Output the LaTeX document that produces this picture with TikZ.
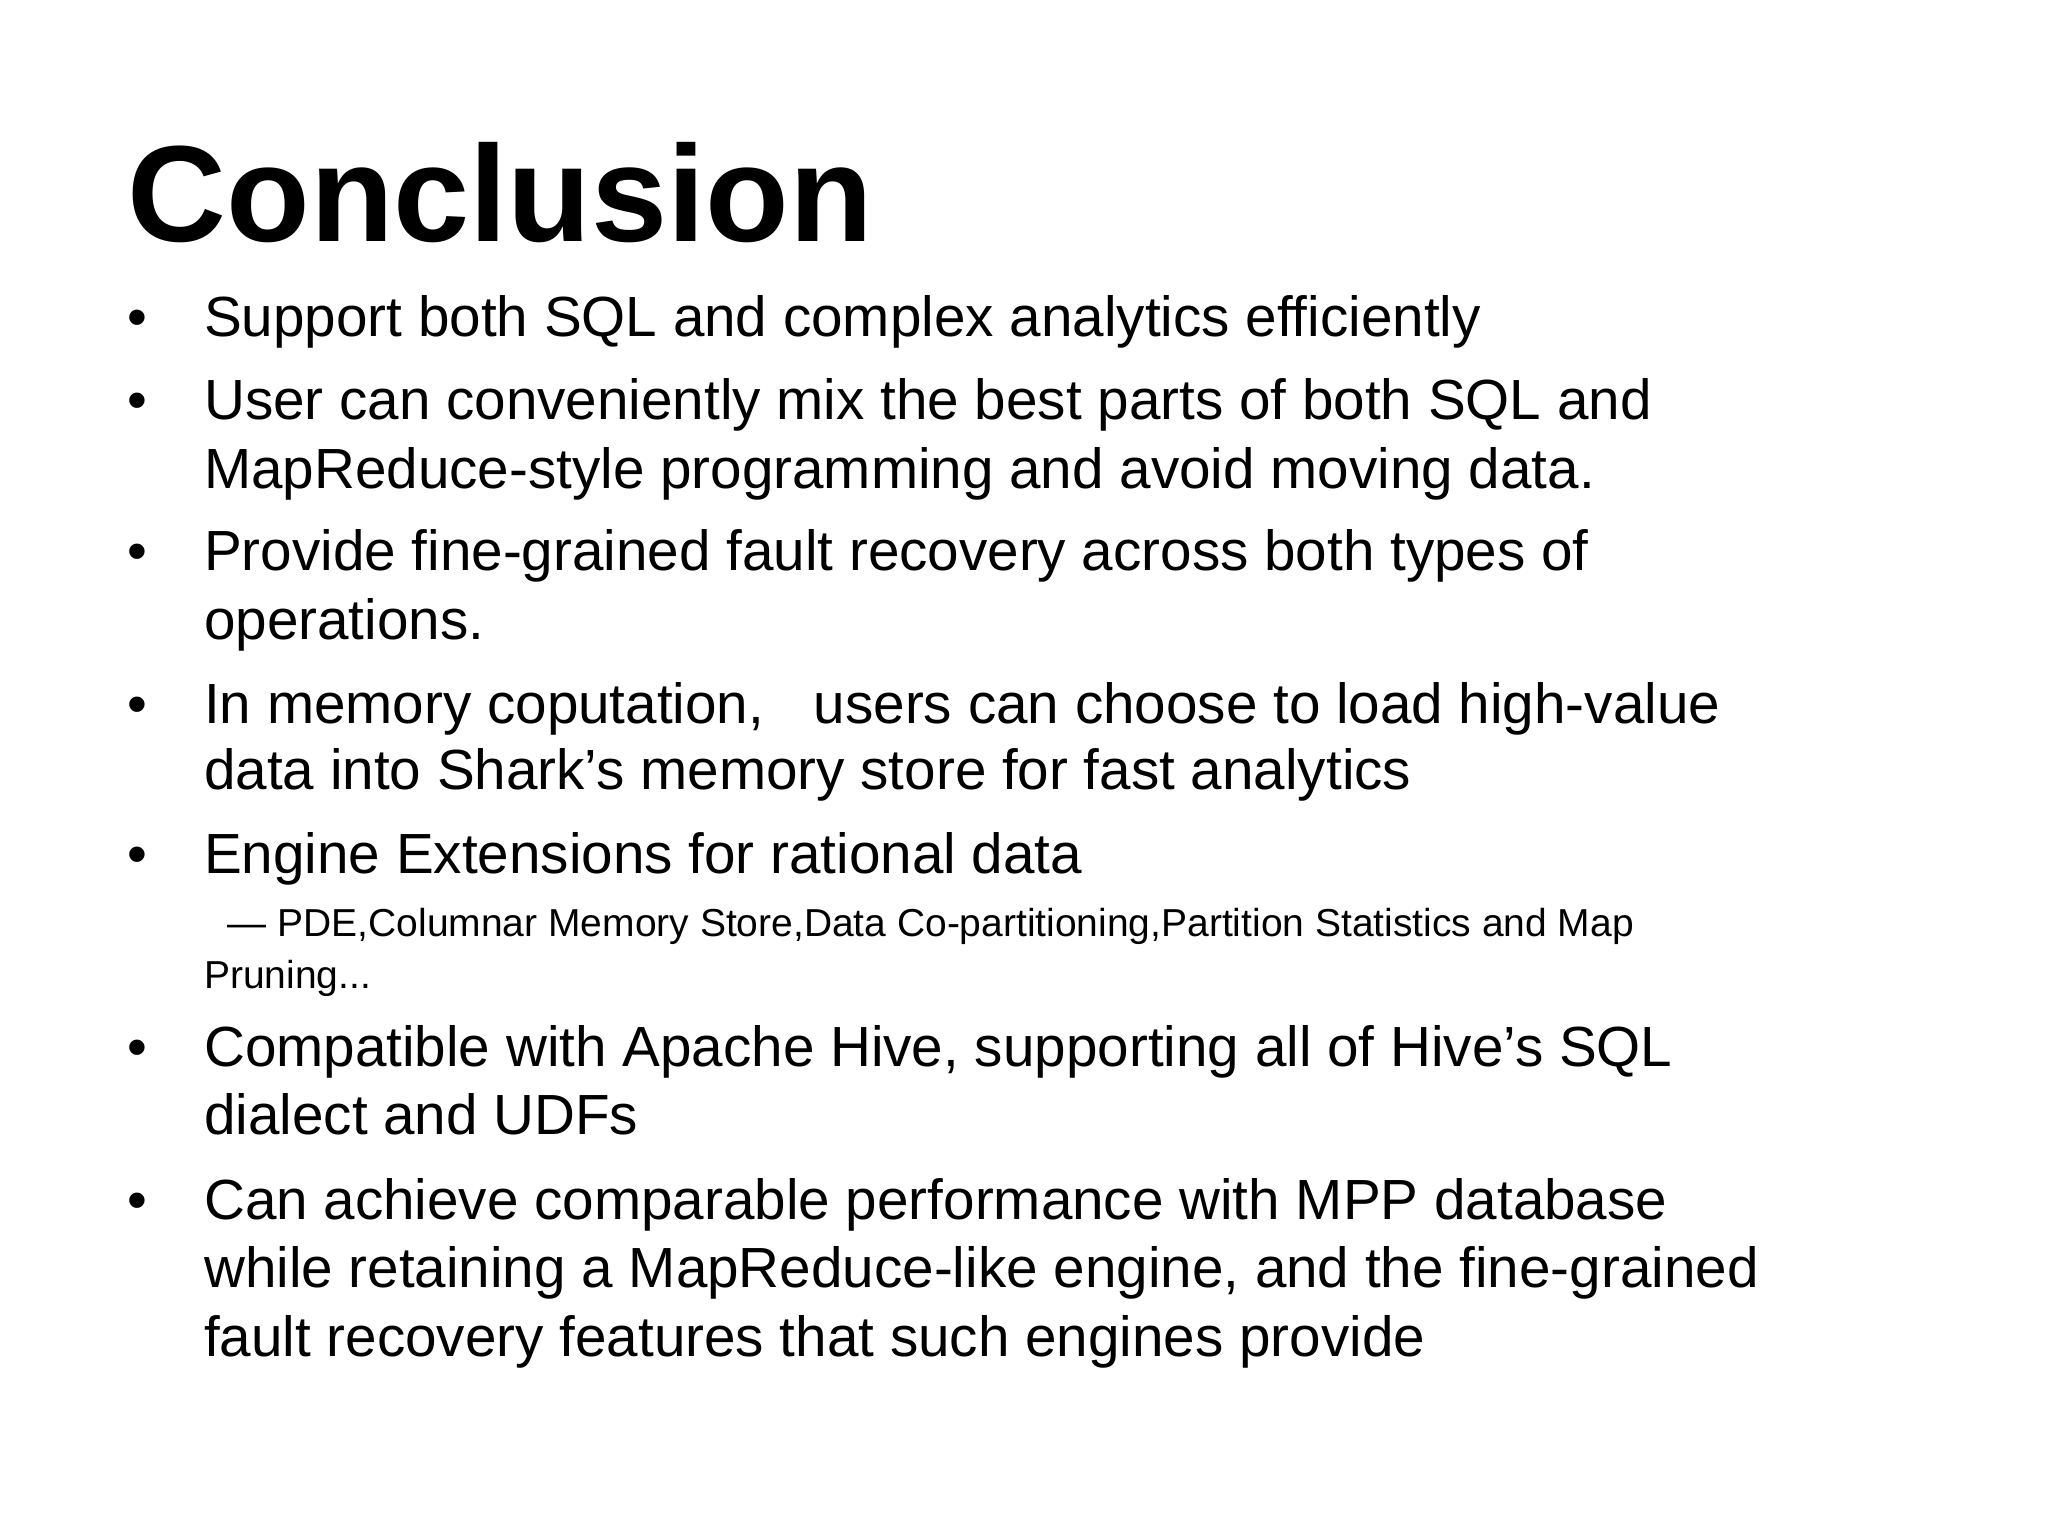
\documentclass[tikz,border=0pt]{standalone}
\usepackage{fontspec}
\setmainfont{Liberation Sans}
\begin{document}
\begin{tikzpicture}[x=0.01cm,y=-0.01cm,
  title/.style={anchor=base west,inner sep=0pt,font=\fontsize{29.5}{30}\selectfont\bfseries},
  body/.style={anchor=base west,inner sep=0pt,font=\fontsize{12.2}{14}\selectfont},
  sub/.style={anchor=base west,inner sep=0pt,font=\fontsize{8.4}{10}\selectfont},
  bul/.style={anchor=base west,inner sep=0pt,font=\fontsize{12.2}{14}\selectfont}]
\useasboundingbox (0,0) rectangle (1552,1164);
\node[title] (t) at (96,183) {Conclusion};
\foreach \y in {255,318,432,548,662,808,924} \node[bul] at (96,\y) {•};
\node[body] (l1) at (154,255) {Support both SQL and complex analytics efficiently};
\node[body] (l2) at (154,318) {User can conveniently mix the best parts of both SQL and};
\node[body] (l3) at (154,370) {MapReduce-style programming and avoid moving data.};
\node[body] (l4) at (154,432) {Provide fine-grained fault recovery across both types of};
\node[body] (l5) at (154,485) {operations.};
\node[body] (l6) at (154,548) {In memory coputation,\hspace{0.6em} users can choose to load high-value};
\node[body] (l7) at (154,598) {data into Shark’s memory store for fast analytics};
\node[body] (l8) at (154,662) {Engine Extensions for rational data};
\node[sub] (s1) at (172,710) {--- PDE,Columnar Memory Store,Data Co-partitioning,Partition Statistics and Map};
\node[sub] (s2) at (154,749) {Pruning...};
\node[body] (l9) at (154,808) {Compatible with Apache Hive, supporting all of Hive’s SQL};
\node[body] (l10) at (154,860) {dialect and UDFs};
\node[body] (l11) at (154,924) {Can achieve comparable performance with MPP database};
\node[body] (l12) at (154,976) {while retaining a MapReduce-like engine, and the fine-grained};
\node[body] (l13) at (154,1028) {fault recovery features that such engines provide};
\end{tikzpicture}
\end{document}
